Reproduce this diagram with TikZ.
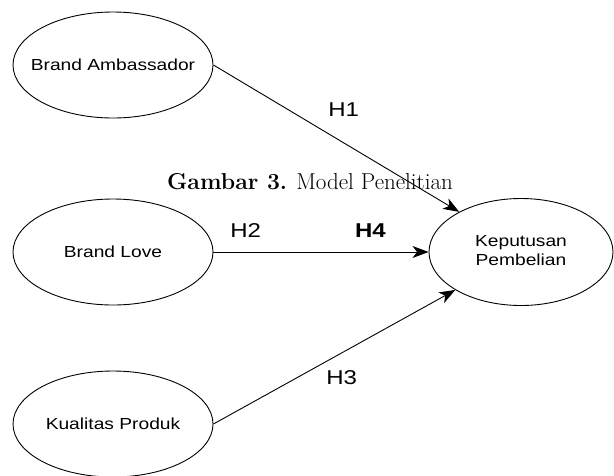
\documentclass[tikz,border=0pt]{standalone}
\usepackage{fontspec}
\usepackage{graphicx}
\newfontfamily\arialfont{Liberation Sans}
\usetikzlibrary{arrows.meta,shapes.geometric}
\newcommand{\wide}[1]{\scalebox{1.2}[1]{#1}}

\begin{document}
\begin{tikzpicture}[x=1pt,y=-1pt,
>={Stealth[length=16pt,width=12pt,inset=4.5pt]},
var/.style={ellipse,draw,line width=0.9pt,minimum width=200pt,minimum height=106pt,
inner sep=0pt,font=\arialfont\fontsize{16}{19}\selectfont},
hyp/.style={font=\arialfont\fontsize{20}{24}\selectfont}]
\useasboundingbox (0,0) rectangle (614,475);
\node[var] (ba) at (113,65) {\makebox[0pt]{\wide{Brand Ambassador}}};
\node[var] (bl) at (113,252) {\makebox[0pt]{\wide{Brand Love}}};
\node[var] (kq) at (113,424) {\makebox[0pt]{\wide{Kualitas Produk}}};
\node[var,minimum width=184pt,minimum height=107pt] (kp) at (521,252)
  {\makebox[0pt]{\wide{\begin{tabular}{@{}c@{}}Keputusan\\Pembelian\end{tabular}}}};
\node[anchor=base,font=\fontsize{23}{26}\selectfont] (cap) at (310,189) {\textbf{Gambar 3.} Model Penelitian};
\path[->,line width=0.9pt](ba.east) edge node[hyp,pos=0.53,yshift=33pt]{\wide{H1}} (kp.147);
\path[->,line width=0.9pt](bl.east) edge node[hyp,pos=0.15,yshift=21pt]{\wide{H2}}
  node[hyp,pos=0.73,yshift=21pt]{\wide{\textbf{H4}}} (kp.west);
\path[->,line width=0.9pt](kq.east) edge node[hyp,pos=0.53,yshift=-25pt]{\wide{H3}} (kp.210);
\end{tikzpicture}
\end{document}
